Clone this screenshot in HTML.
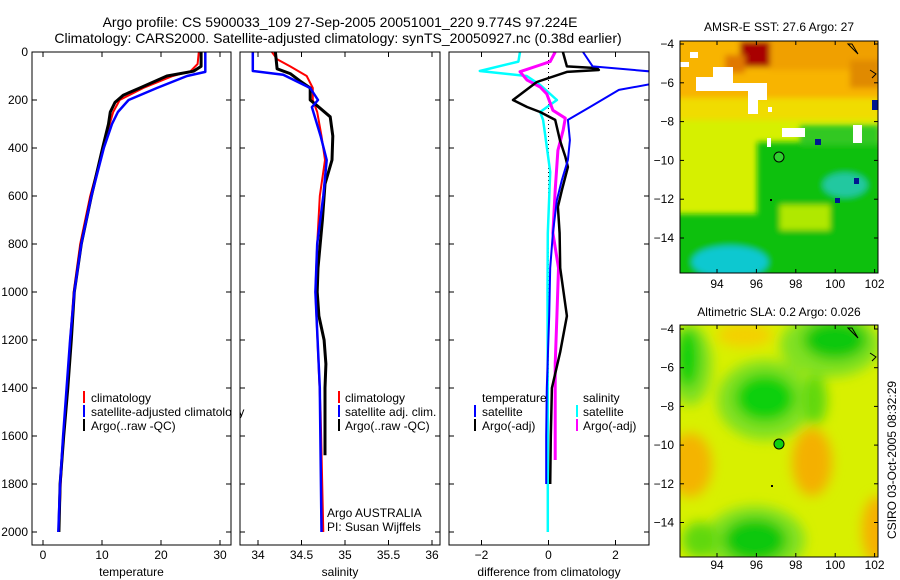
<!DOCTYPE html>
<html><head><meta charset="utf-8"><title>Argo profile</title>
<style>
html,body{margin:0;padding:0;background:#fff;}
svg{display:block;font-family:"Liberation Sans",sans-serif;}
text{font-size:12px;fill:#000;}
</style></head>
<body>
<svg id="chart" width="900" height="580" viewBox="0 0 900 580" xmlns="http://www.w3.org/2000/svg">
<defs>
 <clipPath id="c1"><rect x="32" y="46" width="199" height="499"/></clipPath>
 <clipPath id="c2"><rect x="240" y="46" width="200" height="499"/></clipPath>
 <clipPath id="c3"><rect x="449" y="46" width="200" height="499"/></clipPath>
 <clipPath id="m1"><rect x="680" y="41" width="198" height="232"/></clipPath>
 <clipPath id="m2"><rect x="680" y="325" width="198" height="232"/></clipPath>
 <filter id="blur" x="-30%" y="-30%" width="160%" height="160%"><feGaussianBlur stdDeviation="6"/></filter>
 <filter id="blur2" x="-20%" y="-20%" width="140%" height="140%"><feGaussianBlur stdDeviation="3"/></filter>
</defs>
<text x="340" y="27" text-anchor="middle" style="font-size:14px">Argo profile: CS 5900033_109 27-Sep-2005 20051001_220 9.774S 97.224E</text>
<text x="338" y="43" text-anchor="middle" style="font-size:14px">Climatology: CARS2000. Satellite-adjusted climatology: synTS_20050927.nc (0.38d earlier)</text>
<g id="g1" clip-path="url(#c1)"></g>
<g id="g2" clip-path="url(#c2)"></g>
<g id="g3" clip-path="url(#c3)"></g>
<g id="axes"></g>

<!-- Map 1 -->
<g clip-path="url(#m1)">
 <rect x="680" y="41" width="198" height="232" fill="#d6f000"/>
 <g filter="url(#blur2)">
  <rect x="670" y="30" width="220" height="72" fill="#f8b400"/>
  <rect x="670" y="98" width="220" height="22" fill="#f0dc00"/>
  <rect x="770" y="30" width="120" height="40" fill="#f0a000"/>
  <rect x="740" y="41" width="30" height="26" fill="#a80000"/>
  <rect x="725" y="55" width="20" height="18" fill="#e07800"/>
  <rect x="850" y="60" width="30" height="28" fill="#e08a00"/>
  <rect x="757" y="142" width="125" height="75" fill="#10c010"/>
  <rect x="800" y="125" width="80" height="20" fill="#30c820"/>
  <rect x="670" y="214" width="220" height="70" fill="#10c010"/>
  <rect x="760" y="195" width="20" height="20" fill="#10c010"/>
  <rect x="780" y="205" width="50" height="25" fill="#b0e800"/>
  <ellipse cx="730" cy="262" rx="38" ry="16" fill="#10c8d0"/>
  <ellipse cx="845" cy="185" rx="22" ry="12" fill="#20c8a0"/>
 </g>
 <rect x="690" y="52" width="8" height="6" fill="#fff"/>
 <polygon points="713,67 733,67 733,83 767,83 767,100 758,100 758,114 748,114 748,91 696,91 696,77 713,77" fill="#fff"/>
 <rect x="680" y="62" width="9" height="5" fill="#fff"/>
 <rect x="768" y="107" width="4" height="5" fill="#fff"/>
 <rect x="782" y="128" width="23" height="9" fill="#fff"/>
 <rect x="767" y="138" width="4" height="9" fill="#fff"/>
 <rect x="853" y="125" width="9" height="18" fill="#fff"/>
 <rect x="815" y="139" width="6" height="6" fill="#001890"/>
 <rect x="872" y="100" width="6" height="10" fill="#001890"/>
 <rect x="854" y="178" width="5" height="6" fill="#001890"/>
 <rect x="835" y="198" width="5" height="5" fill="#001890"/>
 <path d="M848,44 L858,54 L852,44 Z" fill="none" stroke="#000" stroke-width="1"/>
 <path d="M870,70 L876,74 L872,78" fill="none" stroke="#000" stroke-width="1"/>
 <circle cx="779" cy="157" r="5" fill="#30d030" stroke="#000" stroke-width="1"/>
 <rect x="770" y="199" width="2" height="2" fill="#000"/>
</g>
<rect x="680" y="41" width="198" height="232" fill="none" stroke="#000"/>
<text x="779" y="31" text-anchor="middle">AMSR-E SST: 27.6 Argo: 27</text>

<!-- Map 2 -->
<g clip-path="url(#m2)">
 <rect x="680" y="325" width="198" height="232" fill="#d8f000"/>
 <g filter="url(#blur)">
  <ellipse cx="690" cy="465" rx="22" ry="32" fill="#f4b400"/>
  <ellipse cx="812" cy="462" rx="20" ry="34" fill="#f4b000"/>
  <ellipse cx="878" cy="530" rx="16" ry="34" fill="#f6b000"/>
  <ellipse cx="745" cy="335" rx="28" ry="12" fill="#f4d000"/>
  <ellipse cx="690" cy="365" rx="22" ry="40" fill="#80e020"/>
  <ellipse cx="688" cy="358" rx="12" ry="30" fill="#10d010"/>
  <ellipse cx="765" cy="400" rx="48" ry="40" fill="#80e020"/>
  <ellipse cx="765" cy="398" rx="30" ry="24" fill="#10d010"/>
  <ellipse cx="830" cy="345" rx="50" ry="32" fill="#80e020"/>
  <ellipse cx="835" cy="340" rx="32" ry="20" fill="#10c810"/>
  <ellipse cx="815" cy="400" rx="12" ry="25" fill="#60d810"/>
  <ellipse cx="755" cy="540" rx="50" ry="34" fill="#80e020"/>
  <ellipse cx="755" cy="540" rx="32" ry="22" fill="#10c810"/>
  <ellipse cx="700" cy="540" rx="18" ry="18" fill="#60d810"/>
 </g>
 <circle cx="779" cy="444" r="5" fill="#10d010" stroke="#000" stroke-width="1"/>
 <rect x="771" y="485" width="2" height="2" fill="#000"/>
 <path d="M848,328 L858,338 L852,328 Z" fill="none" stroke="#000" stroke-width="1"/>
 <path d="M870,353 L876,357 L872,361" fill="none" stroke="#000" stroke-width="1"/>
</g>
<rect x="680" y="325" width="198" height="232" fill="none" stroke="#000"/>
<text x="779" y="316" text-anchor="middle">Altimetric SLA: 0.2 Argo: 0.026</text>
<g id="maxes"></g>
<text transform="translate(896,460) rotate(-90)" text-anchor="middle">CSIRO 03-Oct-2005 08:32:29</text>

<!-- Legends -->
<g>
 <rect x="83" y="391" width="2" height="12" fill="#f00"/><text x="91" y="402">climatology</text>
 <rect x="83" y="405" width="2" height="12" fill="#00f"/><text x="91" y="416">satellite-adjusted climatology</text>
 <rect x="83" y="419" width="2" height="12" fill="#000"/><text x="91" y="430">Argo(..raw -QC)</text>
</g>
<rect x="231.5" y="380" width="8" height="60" fill="#fff"/>
<g>
 <rect x="338" y="391" width="2" height="12" fill="#f00"/><text x="345" y="402">climatology</text>
 <rect x="338" y="405" width="2" height="12" fill="#00f"/><text x="345" y="416">satellite adj. clim.</text>
 <rect x="338" y="419" width="2" height="12" fill="#000"/><text x="345" y="430">Argo(..raw -QC)</text>
 <text x="327" y="517">Argo AUSTRALIA</text>
 <text x="327" y="531">PI: Susan Wijffels</text>
</g>
<g>
 <text x="482" y="402">temperature</text>
 <rect x="474" y="405" width="2" height="12" fill="#00f"/><text x="482" y="416">satellite</text>
 <rect x="474" y="419" width="2" height="12" fill="#000"/><text x="482" y="430">Argo(-adj)</text>
 <text x="583" y="402">salinity</text>
 <rect x="576" y="405" width="2" height="12" fill="#0ff"/><text x="583" y="416">satellite</text>
 <rect x="576" y="419" width="2" height="12" fill="#f0f"/><text x="583" y="430">Argo(-adj)</text>
</g>

<script>
// ---------- data ----------
const tClimDepth = [0,50,80,100,150,200,250,300,400,600,800,1000,1200,1400,1600,1800,2000];
const tClimVal   = [26.4,26.2,25.0,22.0,17.0,13.0,11.9,11.3,10.2,8.0,6.3,5.2,4.6,4.1,3.5,3.0,2.7];
const tSatDepth  = [0,83,100,150,200,250,300,400,600,800,1000,1200,1400,1600,1800,2000];
const tSatVal    = [27.5,27.5,24.4,19.3,14.5,12.7,11.7,10.3,8.2,6.5,5.3,4.6,4.0,3.4,2.9,2.6];
const tArgoDepth = [0,60,80,100,150,180,210,250,300,400,600,800,1000,1200,1400,1600,1800,2000];
const tArgoVal   = [26.8,26.8,25.5,21.0,16.4,13.6,12.2,11.4,11.1,10.1,8.2,6.5,5.3,4.8,4.2,3.5,2.9,2.7];

const sClimDepth = [0,30,60,100,150,200,250,350,450,600,800,1000,1500,2000];
const sClimVal   = [34.16,34.22,34.37,34.56,34.63,34.63,34.68,34.73,34.77,34.71,34.68,34.66,34.72,34.75];
const sSatDepth  = [0,79,95,150,200,230,350,450,600,800,1000,1400,2000];
const sSatVal    = [33.94,33.94,34.29,34.60,34.69,34.62,34.72,34.79,34.75,34.68,34.66,34.71,34.73];
const sArgoDepth = [0,70,90,120,150,200,230,270,350,450,550,700,900,1000,1100,1200,1300,1400,1680];
const sArgoVal   = [34.20,34.22,34.37,34.48,34.60,34.60,34.70,34.83,34.86,34.85,34.77,34.74,34.69,34.68,34.70,34.76,34.78,34.77,34.77];

const dTSatDepth = [0,60,83,130,158,229,283,367,450,533,617,754,900,1100,1400,1600,1800];
const dTSatVal   = [1.03,1.32,3.2,3.2,2.1,1.24,0.58,0.64,0.58,0.40,0.25,0.13,0.05,0.02,-0.05,-0.07,-0.07];
const dTArgoDepth= [0,60,67,75,83,125,200,229,250,283,367,436,479,575,645,754,900,1100,1250,1400,1600,1800];
const dTArgoVal  = [0.43,0.55,1.45,1.5,0.55,-0.35,-1.06,-0.64,-0.25,0.2,0.34,0.5,0.58,0.40,0.28,0.33,0.35,0.55,0.35,0.1,0.07,0.05];
const dSSatDepth = [0,40,79,100,137,200,250,283,395,500,754,1000,1500,2000];
const dSSatVal   = [-0.85,-0.9,-2.05,-0.65,-0.25,0.25,-0.25,-0.16,-0.05,0.05,-0.02,-0.03,-0.02,-0.02];
const dSArgoDepth= [0,40,54,82,117,146,175,243,276,325,410,575,754,900,1100,1300,1500,1700];
const dSArgoVal  = [0.2,0.05,-0.25,-0.85,-0.64,-0.25,-0.05,0.13,0.5,0.44,0.28,0.2,0.13,0.3,0.25,0.2,0.2,0.2];

const depthTicks = [0,200,400,600,800,1000,1200,1400,1600,1800,2000];
const tempTicks = [0,10,20,30];
const salTicks = [34,34.5,35,35.5,36];
const diffTicks = [-2,0,2];
const latTicks = [-4,-6,-8,-10,-12,-14];
const lonTicks = [94,96,98,100,102];

// ---------- scales ----------
const NS = 'http://www.w3.org/2000/svg';
const yD = d => 52 + d * 0.24;
const xT = v => 43 + v * 5.9;
const xS = v => 258 + (v - 34) * 87;
const xDf = v => 548.5 + v * 33.5;
const yLat1 = la => 44 + (-4 - la) * 19.4;
const yLat2 = la => 329 + (-4 - la) * 19.35;
const xLon = lo => 717 + (lo - 94) * 19.7;

function mk(tag, attrs, parent){ const e=document.createElementNS(NS,tag); for(const k in attrs) e.setAttribute(k,attrs[k]); parent.appendChild(e); return e; }

function line(parent, depths, vals, xf, color, w, name){
  const pts = depths.map((d,i)=> xf(vals[i]).toFixed(1)+','+yD(d).toFixed(1)).join(' ');
  const el = mk('polyline',{points:pts,fill:'none',stroke:color,'stroke-width':w,'stroke-linejoin':'round'},parent);
  
  
}
const g1=document.getElementById('g1'), g2=document.getElementById('g2'), g3=document.getElementById('g3');
line(g1,tClimDepth,tClimVal,xT,'#f00',2,'temp-climatology-line');
line(g1,tArgoDepth,tArgoVal,xT,'#000',3,'temp-argo-line');
line(g1,tSatDepth,tSatVal,xT,'#00f',2.5,'temp-satellite-line');
line(g2,sClimDepth,sClimVal,xS,'#f00',2,'sal-climatology-line');
line(g2,sArgoDepth,sArgoVal,xS,'#000',3,'sal-argo-line');
line(g2,sSatDepth,sSatVal,xS,'#00f',2.5,'sal-satellite-line');
const zl = mk('line',{x1:xDf(0),x2:xDf(0),y1:yD(0),y2:yD(2000),stroke:'#000','stroke-width':1,'stroke-dasharray':'1,3'},g3);


line(g3,dSSatDepth,dSSatVal,xDf,'#0ff',2.5,'diff-sal-satellite-line');
line(g3,dSArgoDepth,dSArgoVal,xDf,'#f0f',3,'diff-sal-argo-line');
line(g3,dTArgoDepth,dTArgoVal,xDf,'#000',2.5,'diff-temp-argo-line');
line(g3,dTSatDepth,dTSatVal,xDf,'#00f',2,'diff-temp-satellite-line');

// ---------- axes ----------
const ax=document.getElementById('axes');
const panels=[
 {x0:32,x1:231,ticks:tempTicks,f:xT,label:'temperature',fmt:v=>String(v)},
 {x0:240,x1:440,ticks:salTicks,f:xS,label:'salinity',fmt:v=>String(v)},
 {x0:449,x1:649,ticks:diffTicks,f:xDf,label:'difference from climatology',fmt:v=>v<0?'\u2212'+(-v):String(v)}
];
panels.forEach((p,pi)=>{
  const fr = mk('rect',{x:p.x0,y:52,width:p.x1-p.x0,height:493,fill:'none',stroke:'#000','stroke-width':1},ax);
  
  
  depthTicks.forEach(d=>{
    const y=yD(d);
    mk('line',{x1:p.x0,x2:p.x0+5,y1:y,y2:y,stroke:'#000'},ax);
    mk('line',{x1:p.x1-5,x2:p.x1,y1:y,y2:y,stroke:'#000'},ax);
    if(pi===0){ const t=mk('text',{x:28,y:y+4,'text-anchor':'end'},ax); t.textContent=String(d);
      
       }
  });
  p.ticks.forEach(v=>{
    const x=p.f(v);
    mk('line',{x1:x,x2:x,y1:545,y2:540,stroke:'#000'},ax);
    mk('line',{x1:x,x2:x,y1:52,y2:57,stroke:'#000'},ax);
    const t=mk('text',{x:x,y:559,'text-anchor':'middle'},ax); t.textContent=p.fmt(v);
    
    
  });
  const lt=mk('text',{x:(p.x0+p.x1)/2,y:576,'text-anchor':'middle'},ax); lt.textContent=p.label;
  
  
});

const mx=document.getElementById('maxes');
[[41,273,yLat1,288],[325,557,yLat2,569]].forEach(m=>{
  latTicks.forEach(la=>{
    const y=m[2](la);
    mk('line',{x1:680,x2:684,y1:y,y2:y,stroke:'#000'},mx);
    mk('line',{x1:874,x2:878,y1:y,y2:y,stroke:'#000'},mx);
    const t=mk('text',{x:674,y:y+4,'text-anchor':'end'},mx); t.textContent=(la<0?'\u2212':'')+Math.abs(la);
    
    
  });
  lonTicks.forEach(lo=>{
    const x=xLon(lo);
    mk('line',{x1:x,x2:x,y1:m[1],y2:m[1]-4,stroke:'#000'},mx);
    mk('line',{x1:x,x2:x,y1:m[0],y2:m[0]+4,stroke:'#000'},mx);
    const t=mk('text',{x:x,y:m[3],'text-anchor':'middle'},mx); t.textContent=String(lo);
    
    
  });
});
</script>
</svg>
</body></html>
